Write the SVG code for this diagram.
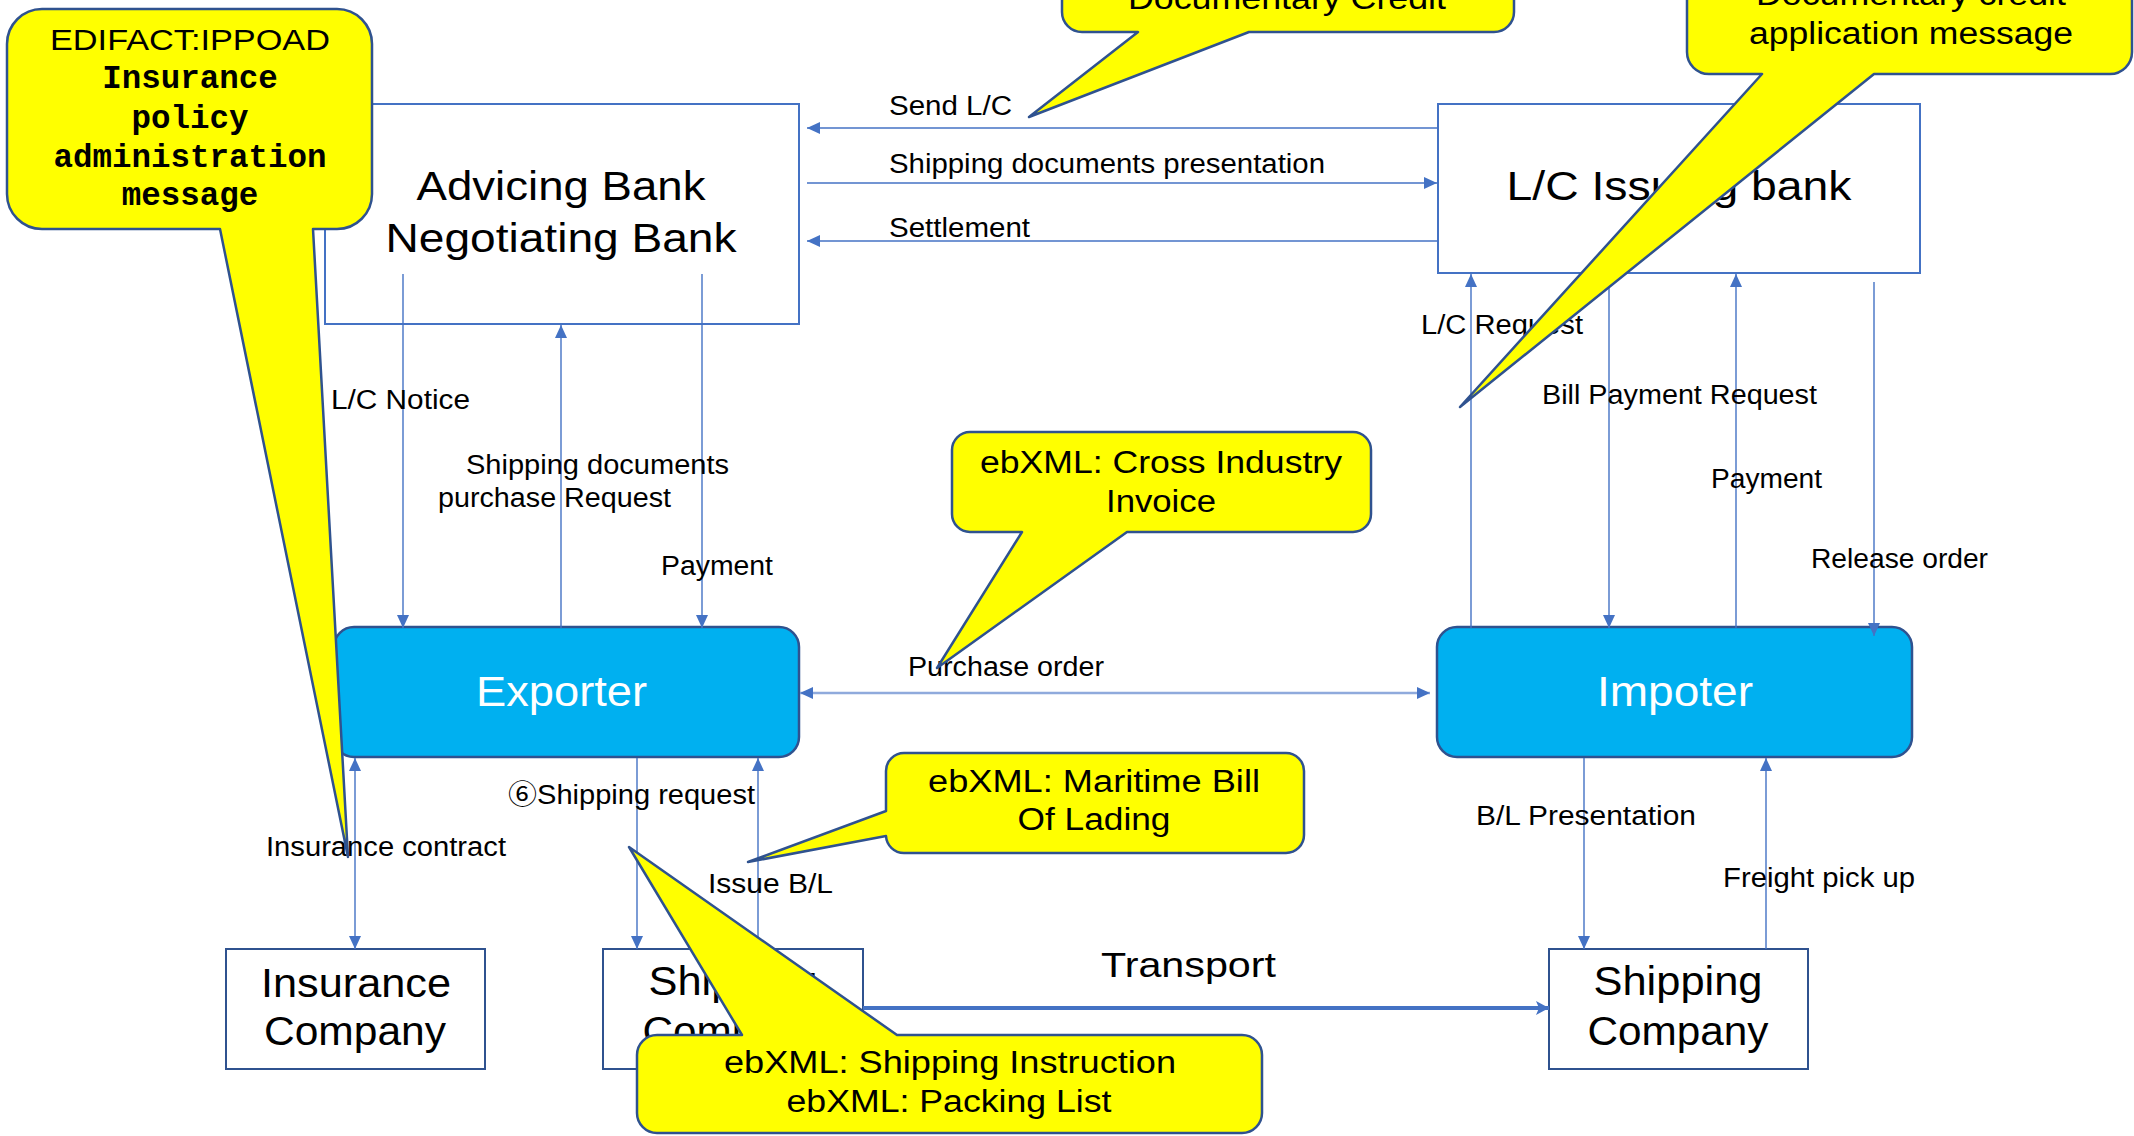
<svg xmlns="http://www.w3.org/2000/svg" width="2134" height="1136" viewBox="0 0 2134 1136">
<style>
.box{fill:#ffffff;stroke:#4472C4;stroke-width:2}
.box2{fill:#ffffff;stroke:#2F528F;stroke-width:2}
.party{fill:#00B0F0;stroke:#2F528F;stroke-width:2.5}
.ntxt{font-family:"Liberation Sans",Arial,sans-serif;font-size:40px;fill:#000;text-anchor:middle}
.ptxt{font-family:"Liberation Sans",Arial,sans-serif;font-size:43px;fill:#fff;text-anchor:middle}
.edge{fill:none;stroke:#4472C4;stroke-width:1.4}
.edgel{fill:none;stroke:#8FAADC;stroke-width:2.5}
.lbl{font-family:"Liberation Sans",Arial,"Noto Sans CJK JP",sans-serif;font-size:27px;fill:#000}
.call{fill:#FFFF00;stroke:#2F528F;stroke-width:2.5;stroke-linejoin:round}
.ctxt{font-family:"Liberation Sans",Arial,sans-serif;font-size:31px;fill:#000;text-anchor:middle}
.mono{font-family:"Liberation Mono","Courier New",monospace;font-size:32.5px;font-weight:bold;fill:#000;text-anchor:middle}
</style>
<defs>
<marker id="ah" markerUnits="userSpaceOnUse" markerWidth="14" markerHeight="12" refX="13" refY="6" orient="auto-start-reverse" viewBox="0 0 14 12">
<path d="M0,0 L13,6 L0,12 Z" fill="#4472C4"/>
</marker>
<marker id="ahT" markerUnits="userSpaceOnUse" markerWidth="14" markerHeight="16" refX="13" refY="8" orient="auto" viewBox="0 0 14 16">
<path d="M0,1 L13,8 L0,15 L3,8 Z" fill="#4472C4"/>
</marker>
</defs>
<rect width="2134" height="1136" fill="#ffffff"/>

<g id="advising-bank">
<rect class="box" x="325" y="104" width="474" height="220"/>
<text class="ntxt" x="561" y="200" textLength="289" lengthAdjust="spacingAndGlyphs">Advicing Bank</text>
<text class="ntxt" x="561" y="252" textLength="351" lengthAdjust="spacingAndGlyphs">Negotiating Bank</text>
</g>
<g id="issuing-bank">
<rect class="box" x="1438" y="104" width="482" height="169"/>
<text class="ntxt" x="1679" y="200" textLength="345" lengthAdjust="spacingAndGlyphs">L/C Issuing bank</text>
</g>
<g id="exporter">
<rect class="party" x="334" y="627" width="465" height="130" rx="20"/>
<text class="ptxt" x="561.5" y="706" textLength="171" lengthAdjust="spacingAndGlyphs">Exporter</text>
</g>
<g id="importer">
<rect class="party" x="1437" y="627" width="475" height="130" rx="20"/>
<text class="ptxt" x="1675" y="706" textLength="156" lengthAdjust="spacingAndGlyphs">Impoter</text>
</g>
<g id="insurance-company">
<rect class="box2" x="226" y="949" width="259" height="120"/>
<text class="ntxt" x="356" y="997" textLength="190" lengthAdjust="spacingAndGlyphs">Insurance</text>
<text class="ntxt" x="355" y="1045" textLength="182" lengthAdjust="spacingAndGlyphs">Company</text>
</g>
<g id="shipping-company-export">
<rect class="box2" x="603" y="949" width="260" height="120"/>
<text class="ntxt" x="733" y="995" textLength="169" lengthAdjust="spacingAndGlyphs">Shipping</text>
<text class="ntxt" x="733" y="1045" textLength="181" lengthAdjust="spacingAndGlyphs">Company</text>
</g>
<g id="shipping-company-import">
<rect class="box2" x="1549" y="949" width="259" height="120"/>
<text class="ntxt" x="1678" y="995" textLength="169" lengthAdjust="spacingAndGlyphs">Shipping</text>
<text class="ntxt" x="1678" y="1045" textLength="181" lengthAdjust="spacingAndGlyphs">Company</text>
</g>

<g id="connectors">
<line class="edge" x1="1438" y1="128" x2="807" y2="128" marker-end="url(#ah)"/>
<line class="edge" x1="807" y1="183" x2="1437" y2="183" marker-end="url(#ah)"/>
<line class="edge" x1="1438" y1="241" x2="807" y2="241" marker-end="url(#ah)"/>
<line class="edge" x1="403" y1="274" x2="403" y2="628" marker-end="url(#ah)"/>
<line class="edge" x1="561" y1="628" x2="561" y2="325" marker-end="url(#ah)"/>
<line class="edge" x1="702" y1="274" x2="702" y2="628" marker-end="url(#ah)"/>
<line class="edge" x1="1471" y1="628" x2="1471" y2="274" marker-end="url(#ah)"/>
<line class="edge" x1="1609" y1="273" x2="1609" y2="628" marker-end="url(#ah)"/>
<line class="edge" x1="1736" y1="628" x2="1736" y2="274" marker-end="url(#ah)"/>
<line class="edge" x1="1874" y1="282" x2="1874" y2="636" marker-end="url(#ah)"/>
<line class="edgel" x1="800" y1="693" x2="1430" y2="693" marker-start="url(#ah)" marker-end="url(#ah)"/>
<line class="edge" x1="355" y1="758" x2="355" y2="949" marker-start="url(#ah)" marker-end="url(#ah)"/>
<line class="edge" x1="637" y1="758" x2="637" y2="949" marker-end="url(#ah)"/>
<line class="edge" x1="758" y1="949" x2="758" y2="758" marker-end="url(#ah)"/>
<line class="edge" x1="1584" y1="758" x2="1584" y2="949" marker-end="url(#ah)"/>
<line class="edge" x1="1766" y1="949" x2="1766" y2="758" marker-end="url(#ah)"/>
<line x1="863" y1="1008" x2="1549" y2="1008" stroke="#4472C4" stroke-width="4" marker-end="url(#ahT)"/>
<text class="lbl" x="889" y="115" textLength="123" lengthAdjust="spacingAndGlyphs">Send L/C</text>
<text class="lbl" x="889" y="173" textLength="436" lengthAdjust="spacingAndGlyphs">Shipping documents presentation</text>
<text class="lbl" x="889" y="237" textLength="141" lengthAdjust="spacingAndGlyphs">Settlement</text>
<text class="lbl" x="331" y="409" textLength="139" lengthAdjust="spacingAndGlyphs">L/C Notice</text>
<text class="lbl" x="466" y="474" textLength="263" lengthAdjust="spacingAndGlyphs">Shipping documents</text>
<text class="lbl" x="438" y="507" textLength="233" lengthAdjust="spacingAndGlyphs">purchase Request</text>
<text class="lbl" x="661" y="575" textLength="112" lengthAdjust="spacingAndGlyphs">Payment</text>
<text class="lbl" x="1421" y="334" textLength="162" lengthAdjust="spacingAndGlyphs">L/C Request</text>
<text class="lbl" x="1542" y="404" textLength="275" lengthAdjust="spacingAndGlyphs">Bill Payment Request</text>
<text class="lbl" x="1711" y="488" textLength="111" lengthAdjust="spacingAndGlyphs">Payment</text>
<text class="lbl" x="1811" y="568" textLength="177" lengthAdjust="spacingAndGlyphs">Release order</text>
<text class="lbl" x="908" y="676" textLength="196" lengthAdjust="spacingAndGlyphs">Purchase order</text>
<text class="lbl" x="266" y="856" textLength="240" lengthAdjust="spacingAndGlyphs">Insurance contract</text>
<text class="lbl" x="508" y="804" textLength="247" lengthAdjust="spacingAndGlyphs">⑥Shipping request</text>
<text class="lbl" x="708" y="893" textLength="125" lengthAdjust="spacingAndGlyphs">Issue B/L</text>
<text class="lbl" x="1476" y="825" textLength="220" lengthAdjust="spacingAndGlyphs">B/L Presentation</text>
<text class="lbl" x="1723" y="887" textLength="192" lengthAdjust="spacingAndGlyphs">Freight pick up</text>
<text class="lbl" x="1101" y="977" style="font-size:35px" textLength="175" lengthAdjust="spacingAndGlyphs">Transport</text>
</g>

<g id="callout-ippoad">
<path class="call" d="M42,9 H337 A35,35 0 0 1 372,44 V194 A35,35 0 0 1 337,229 H313 L348,857 L220,229 H42 A35,35 0 0 1 7,194 V44 A35,35 0 0 1 42,9 Z"/>
<text class="ctxt" x="190" y="50" style="font-size:30px" textLength="280" lengthAdjust="spacingAndGlyphs">EDIFACT:IPPOAD</text>
<text class="mono" x="190" y="88">Insurance</text>
<text class="mono" x="190" y="128">policy</text>
<text class="mono" x="190" y="167">administration</text>
<text class="mono" x="190" y="205">message</text>
</g>
<g id="callout-doc-credit">
<path class="call" d="M1062,-60 H1514 V12 A20,20 0 0 1 1494,32 H1249 L1029,117 L1138,32 H1082 A20,20 0 0 1 1062,12 Z"/>
<text class="ctxt" x="1287" y="9" textLength="318" lengthAdjust="spacingAndGlyphs">Documentary Credit</text>
</g>
<g id="callout-doc-credit-app">
<path class="call" d="M1687,-60 H2132 V52 A22,22 0 0 1 2110,74 H1874 L1460,407 L1762,74 H1709 A22,22 0 0 1 1687,52 Z"/>
<text class="ctxt" x="1911" y="5" textLength="310" lengthAdjust="spacingAndGlyphs">Documentary credit</text>
<text class="ctxt" x="1911" y="44" textLength="324" lengthAdjust="spacingAndGlyphs">application message</text>
</g>
<g id="callout-invoice">
<path class="call" d="M970,432 H1353 A18,18 0 0 1 1371,450 V514 A18,18 0 0 1 1353,532 H1127 L937,668 L1022,532 H970 A18,18 0 0 1 952,514 V450 A18,18 0 0 1 970,432 Z"/>
<text class="ctxt" x="1161" y="473" textLength="362" lengthAdjust="spacingAndGlyphs">ebXML: Cross Industry</text>
<text class="ctxt" x="1161" y="512" textLength="110" lengthAdjust="spacingAndGlyphs">Invoice</text>
</g>
<g id="callout-bill-of-lading">
<path class="call" d="M904,753 H1286 A18,18 0 0 1 1304,771 V835 A18,18 0 0 1 1286,853 H904 A18,18 0 0 1 886,836 L748,862 L886,811 V771 A18,18 0 0 1 904,753 Z"/>
<text class="ctxt" x="1094" y="792" textLength="332" lengthAdjust="spacingAndGlyphs">ebXML: Maritime Bill</text>
<text class="ctxt" x="1094" y="830" textLength="153" lengthAdjust="spacingAndGlyphs">Of Lading</text>
</g>
<g id="callout-shipping-instruction">
<path class="call" d="M657,1035 H742 L629,847 L897,1035 H1242 A20,20 0 0 1 1262,1055 V1113 A20,20 0 0 1 1242,1133 H657 A20,20 0 0 1 637,1113 V1055 A20,20 0 0 1 657,1035 Z"/>
<text class="ctxt" x="950" y="1073" textLength="452" lengthAdjust="spacingAndGlyphs">ebXML: Shipping Instruction</text>
<text class="ctxt" x="949" y="1112" textLength="325" lengthAdjust="spacingAndGlyphs">ebXML: Packing List</text>
</g>
</svg>
